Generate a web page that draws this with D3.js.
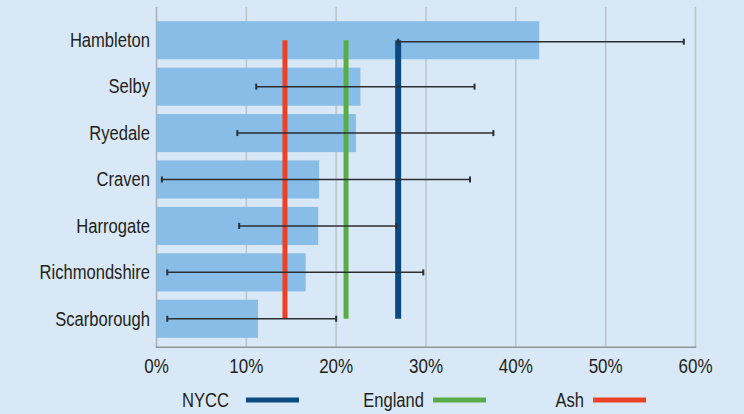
<!DOCTYPE html>
<html><head><meta charset="utf-8">
<script src="https://cdn.jsdelivr.net/npm/d3@7"></script>
<style>
html,body{margin:0;padding:0;background:#d9e8f6;}
svg{display:block;}
text{font-family:"Liberation Sans",Arial,sans-serif;fill:#231f20;}
</style></head><body>
<svg id="c" width="744" height="414"></svg>
<script>
const categories = ["Hambleton","Selby","Ryedale","Craven","Harrogate","Richmondshire","Scarborough"];
const values = [42.6, 22.7, 22.2, 18.1, 18.0, 16.6, 11.3];
const errLow = [26.9, 11.1, 9.0, 0.6, 9.2, 1.2, 1.2];
const errHigh = [58.7, 35.4, 37.5, 34.9, 26.7, 29.7, 20.0];
const refNames = ["NYCC","England","Ash"];
const refValues = [26.9, 21.1, 14.3];
const refColors = ["#0b4a80","#5aac47","#ee4027"];
const xTicks = [0,10,20,30,40,50,60];

const SX = 0.85; // horizontal condensation
const svg = d3.select("#c");
const x = d3.scaleLinear().domain([0,60]).range([156.5,695.5]);
const y = d3.scaleBand().domain(categories).range([17,342]).paddingInner(0.18).paddingOuter(0.09);

// gridlines
svg.append("g").selectAll("line").data(xTicks).join("line")
  .attr("x1",d=>x(d)).attr("x2",d=>x(d)).attr("y1",7).attr("y2",347)
  .attr("stroke",d=>d===0?"#a9afb6":"#bcc3ca").attr("stroke-width",1.5);

// bars
svg.append("g").selectAll("rect").data(categories).join("rect")
  .attr("x",x(0)).attr("y",d=>y(d)).attr("height",y.bandwidth())
  .attr("width",(d,i)=>x(values[i])-x(0)).attr("fill","#88bde7");

// axis baseline
svg.append("line").attr("x1",x(0)-0.75).attr("x2",x(60)+0.75).attr("y1",347.3).attr("y2",347.3)
  .attr("stroke","#8e959c").attr("stroke-width",1.5);

// reference lines
const yTop = y(categories[0]) + y.bandwidth()/2;
const yBot = y(categories[categories.length-1]) + y.bandwidth()/2;
const refW = [6,5,5];
svg.append("g").selectAll("line").data(refNames).join("line")
  .attr("x1",(d,i)=>x(refValues[i])).attr("x2",(d,i)=>x(refValues[i]))
  .attr("y1",yTop).attr("y2",yBot)
  .attr("stroke",(d,i)=>refColors[i]).attr("stroke-width",(d,i)=>refW[i]);

// error bars
const eg = svg.append("g").attr("stroke","#2b2f33").attr("stroke-width",1.5);
categories.forEach((c,i)=>{
  const cy = y(c)+y.bandwidth()/2 + (i===0?1.5:0);
  eg.append("line").attr("x1",x(errLow[i])).attr("x2",x(errHigh[i])).attr("y1",cy).attr("y2",cy);
  eg.append("line").attr("x1",x(errLow[i])).attr("x2",x(errLow[i])).attr("y1",cy-3).attr("y2",cy+3).attr("stroke-width",2);
  eg.append("line").attr("x1",x(errHigh[i])).attr("x2",x(errHigh[i])).attr("y1",cy-3).attr("y2",cy+3).attr("stroke-width",2);
});

function ctext(g, tx, ty, anchor, size, str){
  return g.append("text")
    .attr("transform",`translate(${tx},${ty}) scale(${SX},1)`)
    .attr("text-anchor",anchor).attr("font-size",size).text(str);
}

// category labels
const lg = svg.append("g");
categories.forEach(c=>{
  ctext(lg, 150, y(c)+y.bandwidth()/2, "end", 19.5, c).attr("dy","0.35em");
});

// x tick labels
const tg = svg.append("g");
xTicks.forEach(t=>{ ctext(tg, x(t), 373, "middle", 20, t+"%"); });

// legend
const legTextEnd = [229, 424, 584];
const legLineStart = [246, 433, 593];
refNames.forEach((n,i)=>{
  ctext(svg, legTextEnd[i], 407, "end", 19.5, n);
  svg.append("line").attr("x1",legLineStart[i]).attr("x2",legLineStart[i]+53)
    .attr("y1",400).attr("y2",400).attr("stroke",refColors[i]).attr("stroke-width",5);
});
</script>
</body></html>
